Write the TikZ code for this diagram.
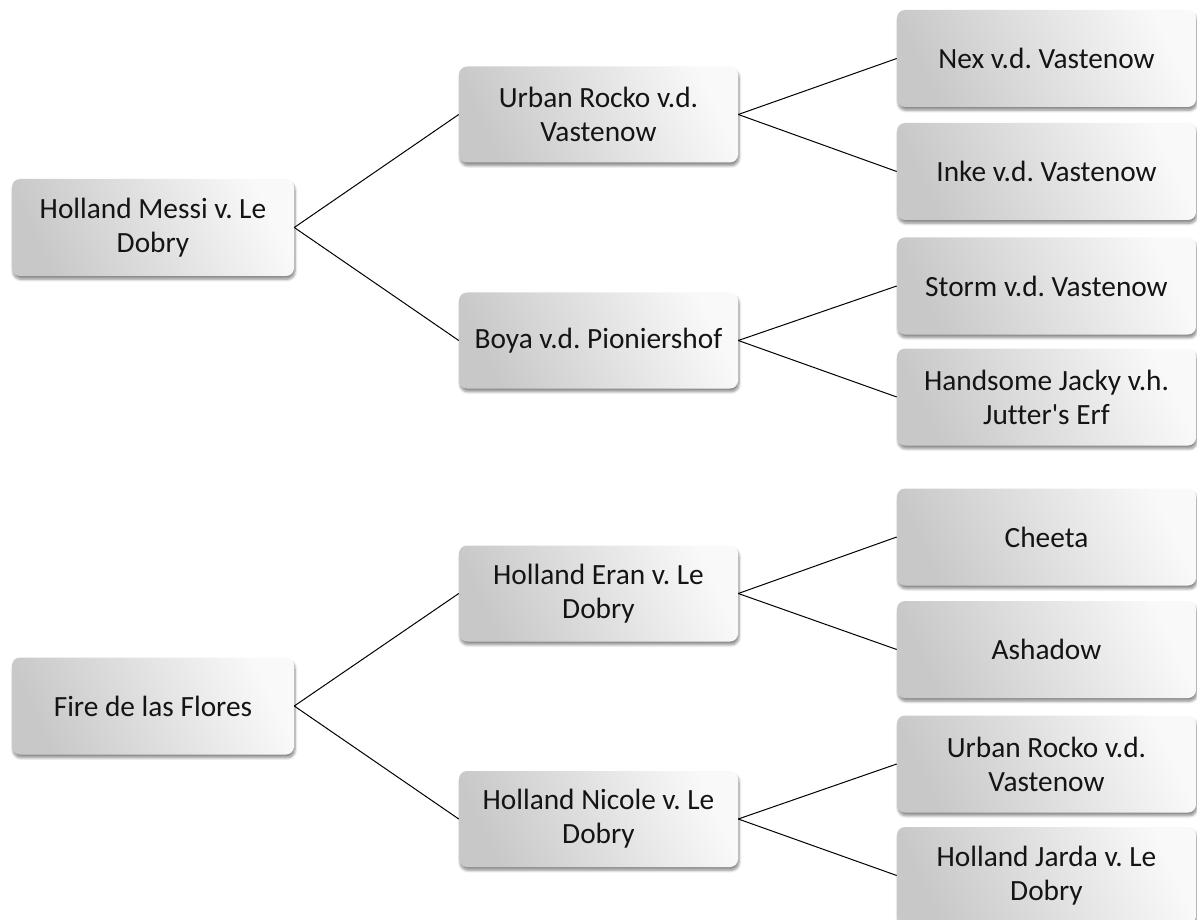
\documentclass[tikz,border=0pt]{standalone}
\usepackage{fontspec}
\setmainfont{Carlito}[Ligatures=NoCommon]
\frenchspacing
\usetikzlibrary{shadows.blur}
\definecolor{boxdark}{RGB}{200,200,200}
\definecolor{boxlight}{RGB}{249,249,249}
\definecolor{txt}{RGB}{20,20,20}
\tikzset{
  pedbox/.style={rounded corners=6pt, inner sep=0pt, align=center,
    font=\fontsize{22pt}{25.5pt}\selectfont, text=txt,
    top color=boxlight, bottom color=boxdark, shading angle=-65,
    blur shadow={shadow xshift=0.8pt, shadow yshift=-2.5pt, shadow blur steps=6,
      shadow blur extra rounding=1.5pt, shadow opacity=45}},
  rootbox/.style={pedbox, minimum width=211.5pt, minimum height=72.75pt},
  midbox/.style={pedbox, minimum width=209.25pt, minimum height=72pt},
  leafbox/.style={pedbox, minimum width=224.25pt, minimum height=72.75pt},
  link/.style={draw=black, line width=0.75pt}
}
\begin{document}
\begin{tikzpicture}[x=0.75pt, y=-0.75pt]
\useasboundingbox (0,0) rectangle (1197,920);
% roots
\node[rootbox] (r1) at (153,227.5) {Holland Messi v. Le\\Dobry};
\node[rootbox] (r2) at (153,706) {Fire de las Flores};
% parents
\node[midbox] (a1) at (598.5,114.5) {Urban Rocko v.d.\\Vastenow};
\node[midbox] (a2) at (598.5,340.5) {Boya v.d. Pioniershof};
\node[midbox] (b1) at (598.5,593.5) {Holland Eran v. Le\\Dobry};
\node[midbox] (b2) at (598.5,819) {Holland Nicole v. Le\\Dobry};
% grandparents
\node[leafbox] (g1) at (1046.5,58.5) {Nex v.d. Vastenow};
\node[leafbox] (g2) at (1046.5,171.5) {Inke v.d. Vastenow};
\node[leafbox] (g3) at (1046.5,286) {Storm v.d. Vastenow};
\node[leafbox] (g4) at (1046.5,397) {Handsome Jacky v.h.\\Jutter\textquotesingle s Erf};
\node[leafbox] (g5) at (1046.5,537) {Cheeta};
\node[leafbox] (g6) at (1046.5,649.5) {Ashadow};
\node[leafbox] (g7) at (1046.5,764) {Urban Rocko v.d.\\Vastenow};
\node[leafbox] (g8) at (1046.5,875.5) {Holland Jarda v. Le\\Dobry};
% connectors
\draw[link] (r1.east) -- (a1.west);
\draw[link] (r1.east) -- (a2.west);
\draw[link] (r2.east) -- (b1.west);
\draw[link] (r2.east) -- (b2.west);
\draw[link] (a1.east) -- (g1.west);
\draw[link] (a1.east) -- (g2.west);
\draw[link] (a2.east) -- (g3.west);
\draw[link] (a2.east) -- (g4.west);
\draw[link] (b1.east) -- (g5.west);
\draw[link] (b1.east) -- (g6.west);
\draw[link] (b2.east) -- (g7.west);
\draw[link] (b2.east) -- (g8.west);
\end{tikzpicture}
\end{document}
